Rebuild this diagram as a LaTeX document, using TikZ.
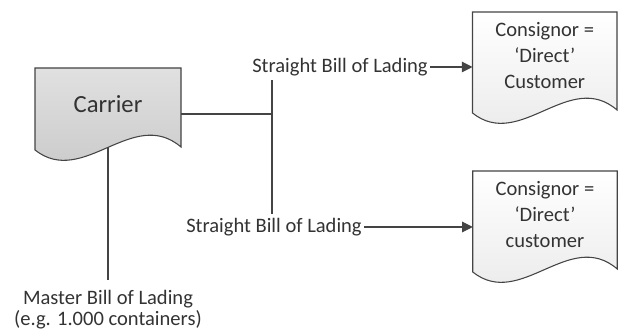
\documentclass[tikz,border=0pt]{standalone}
\usepackage{fontspec}
\setmainfont{Carlito}
\usetikzlibrary{arrows.meta,calc,backgrounds}
\definecolor{linec}{HTML}{444444}
\definecolor{textc}{HTML}{333333}
\newcommand\docoutline[1]{(#1.north west) -- (#1.north east) -- ($(#1.south east)+(0,-3)$)
  .. controls ($(#1.south west)!0.67!(#1.south east)+(0,-44)$) and ($(#1.south west)!0.33!(#1.south east)+(0,38)$) .. (#1.south west) -- cycle}
\begin{document}
\begin{tikzpicture}[x=0.75pt,y=-0.75pt,
  docbox/.style={inner sep=0pt,outer sep=0pt},
  lbl/.style={inner ysep=3pt,inner xsep=1.5pt,font=\fontsize{15.4}{19.5}\selectfont,text=textc},
  boxtext/.style={align=center,font=\fontsize{15.4}{19.5}\selectfont,text=textc},
  conn/.style={draw=linec,line width=0.8pt},
  arr/.style={-{Triangle[length=8pt,width=8pt]}},
  outline/.style={draw=linec,line width=0.8pt},
  shade/.style={fill=black!10,draw=none}]
\useasboundingbox (0,0) rectangle (625,331);

% document shapes (invisible nodes carry the geometry and text)
\node[docbox,minimum width=109.5pt,minimum height=61.5pt,
  label={[font=\fontsize{18.5}{22}\selectfont,text=textc,yshift=3.75pt]center:{Carrier}}] (carrier) at (108,109) {};
\node[docbox,minimum width=108.4pt,minimum height=75.75pt,
  label={[boxtext,yshift=5.25pt]center:{Consignor =\\‘Direct’\\Customer}}] (cons1) at (544.75,62.5) {};
\node[docbox,minimum width=108.4pt,minimum height=75.75pt,
  label={[boxtext,yshift=5.25pt]center:{Consignor =\\‘Direct’\\customer}}] (cons2) at (545,221.5) {};

% labels
\node[lbl] (sbl1) at (340,67) {Straight Bill of Lading};
\node[lbl] (sbl2) at (274,227) {Straight Bill of Lading};
\node[lbl,align=center,anchor=north,inner ysep=7.5pt,font=\fontsize{15.4}{15.8}\selectfont] (master) at (108,280) {Master Bill of Lading\\(e.g. 1.000 containers)};

% connectors
\coordinate (j) at (272,114);
\draw[conn] ([yshift=1.9pt]carrier.south) -- (master.north);
\draw[conn] (carrier.east |- j) -- (j);
\draw[conn] (sbl1.south -| j) -- (sbl2.north -| j);
\draw[conn,arr] (sbl1.east) -- (sbl1.east -| cons1.west);
\draw[conn,arr] (sbl2.east) -- (sbl2.east -| cons2.west);

% shapes drawn behind their text
\begin{scope}[on background layer]
\begin{scope}[shift={(1.5,2)}]
\path[shade] \docoutline{carrier};
\path[shade] \docoutline{cons1};
\path[shade] \docoutline{cons2};
\end{scope}
\path[outline,top color=black!12,bottom color=black!22] \docoutline{carrier};
\path[outline,top color=white,bottom color=black!9] \docoutline{cons1};
\path[outline,top color=white,bottom color=black!9] \docoutline{cons2};
\end{scope}
\end{tikzpicture}
\end{document}
